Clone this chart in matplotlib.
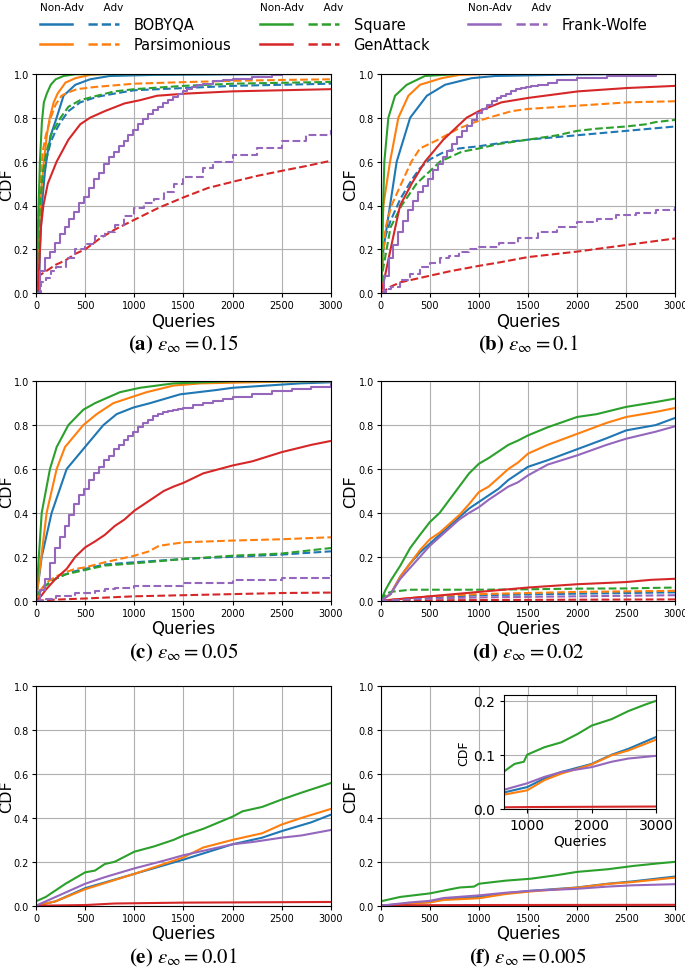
import matplotlib
matplotlib.use("Agg")
import matplotlib.pyplot as plt
from matplotlib.lines import Line2D
from matplotlib.legend_handler import HandlerTuple

plt.rcParams["mathtext.fontset"] = "stix"

methods = ["BOBYQA", "Parsimonious", "Square", "GenAttack", "Frank-Wolfe"]
colors = ["#1f77b4", "#ff7f0e", "#2ca02c", "#d62728", "#9467bd"]
captions = [r"$\mathbf{(a)}\ \varepsilon_\infty = 0.15$", r"$\mathbf{(b)}\ \varepsilon_\infty = 0.1$",
            r"$\mathbf{(c)}\ \varepsilon_\infty = 0.05$", r"$\mathbf{(d)}\ \varepsilon_\infty = 0.02$",
            r"$\mathbf{(e)}\ \varepsilon_\infty = 0.01$", r"$\mathbf{(f)}\ \varepsilon_\infty = 0.005$"]

# (queries, cdf) pairs; "na" = non-adversarial (solid), "adv" = adversarial (dashed)
# ---- (a) eps = 0.15
a_bobyqa_na = [(0, 0), (30, 0), (40, 0.2), (60, 0.4), (90, 0.55), (110, 0.62), (150, 0.72), (210, 0.8),
               (280, 0.9), (400, 0.95), (550, 0.975), (750, 0.99), (1200, 0.995), (3000, 1.0)]
a_bobyqa_adv = [(0, 0), (20, 0.15), (40, 0.35), (70, 0.5), (100, 0.6), (150, 0.69), (200, 0.74), (250, 0.78),
                (330, 0.83), (450, 0.87), (620, 0.895), (800, 0.91), (1000, 0.925), (1500, 0.935), (2000, 0.945),
                (2500, 0.95), (3000, 0.955)]
a_pars_na = [(0, 0), (30, 0.3), (60, 0.5), (80, 0.6), (110, 0.72), (140, 0.8), (180, 0.87), (220, 0.91),
             (300, 0.96), (400, 0.98), (550, 0.995), (700, 1.0), (3000, 1.0)]
a_pars_adv = [(0, 0), (20, 0.3), (40, 0.5), (70, 0.65), (100, 0.72), (150, 0.8), (200, 0.86), (260, 0.9),
              (300, 0.91), (415, 0.93), (600, 0.94), (1000, 0.955), (1500, 0.962), (2000, 0.968), (2500, 0.972),
              (3000, 0.975)]
a_square_na = [(0, 0), (20, 0.3), (40, 0.6), (60, 0.78), (80, 0.87), (110, 0.91), (150, 0.95), (200, 0.975),
               (280, 0.99), (400, 0.998), (3000, 1.0)]
a_square_adv = [(0, 0), (20, 0.2), (40, 0.4), (70, 0.55), (100, 0.63), (150, 0.72), (200, 0.76), (250, 0.8),
                (330, 0.85), (450, 0.88), (620, 0.9), (800, 0.92), (1000, 0.93), (1500, 0.945), (2000, 0.955),
                (3000, 0.963)]
a_gen_na = [(0, 0), (25, 0.02), (30, 0.1), (50, 0.3), (75, 0.4), (120, 0.5), (210, 0.6), (330, 0.7), (450, 0.77),
            (550, 0.8), (700, 0.83), (900, 0.865), (1060, 0.88), (1230, 0.9), (1530, 0.91), (2000, 0.92),
            (2500, 0.925), (3000, 0.93)]
a_gen_adv = [(0, 0.02), (30, 0.08), (100, 0.1), (200, 0.13), (300, 0.15), (400, 0.18), (500, 0.2), (650, 0.25),
             (800, 0.29), (1000, 0.335), (1250, 0.39), (1500, 0.437), (1750, 0.48), (2000, 0.508), (2250, 0.535),
             (2500, 0.558), (2750, 0.58), (3000, 0.604)]
a_fw_na = [(0, 0), (40, 0.1), (90, 0.16), (140, 0.19), (190, 0.23), (240, 0.27), (290, 0.3), (340, 0.34),
           (390, 0.37), (440, 0.41), (490, 0.44), (540, 0.48), (590, 0.52), (640, 0.55), (690, 0.59), (740, 0.62),
           (790, 0.645), (840, 0.67), (890, 0.695), (940, 0.72), (990, 0.745), (1040, 0.77), (1090, 0.795),
           (1140, 0.815), (1190, 0.835), (1240, 0.85), (1290, 0.865), (1340, 0.88), (1390, 0.895), (1440, 0.91),
           (1490, 0.92), (1540, 0.93), (1590, 0.94), (1640, 0.95), (1700, 0.955), (1800, 0.965), (1900, 0.97),
           (2000, 0.975), (2200, 0.985), (2400, 0.995), (2500, 1.0), (3000, 1.0)]
a_fw_adv = [(0, 0), (40, 0), (50, 0.05), (100, 0.07), (150, 0.1), (200, 0.12), (300, 0.16), (400, 0.2),
            (500, 0.225), (600, 0.26), (700, 0.28), (800, 0.31), (900, 0.35), (1000, 0.39), (1100, 0.41),
            (1200, 0.43), (1300, 0.46), (1400, 0.5), (1500, 0.528), (1700, 0.57), (1800, 0.6), (2000, 0.63),
            (2250, 0.66), (2500, 0.695), (2750, 0.72), (3000, 0.744)]

# ---- (b) eps = 0.1
b_bobyqa_na = [(0, 0), (27, 0.2), (95, 0.4), (163, 0.6), (300, 0.8), (470, 0.9), (655, 0.95), (925, 0.98),
               (1165, 0.99), (2000, 0.997), (3000, 1.0)]
b_bobyqa_adv = [(0, 0), (20, 0.15), (40, 0.25), (100, 0.33), (200, 0.43), (320, 0.52), (400, 0.57), (500, 0.61),
                (650, 0.645), (800, 0.66), (1000, 0.67), (1300, 0.69), (1500, 0.7), (2000, 0.72), (2500, 0.74),
                (3000, 0.76)]
b_pars_na = [(0, 0), (27, 0.4), (95, 0.6), (180, 0.8), (282, 0.9), (400, 0.95), (620, 0.98), (800, 0.995),
             (1160, 1.0), (3000, 1.0)]
b_pars_adv = [(0, 0), (20, 0.15), (50, 0.3), (110, 0.4), (210, 0.5), (313, 0.6), (400, 0.66), (585, 0.7),
              (790, 0.75), (960, 0.78), (1100, 0.8), (1335, 0.83), (1500, 0.84), (1840, 0.85), (2180, 0.86),
              (2520, 0.87), (3000, 0.875)]
b_square_na = [(0, 0), (37, 0.6), (78, 0.8), (146, 0.9), (265, 0.95), (450, 0.99), (825, 1.0), (3000, 1.0)]
b_square_adv = [(0, 0), (20, 0.1), (100, 0.3), (213, 0.4), (366, 0.5), (604, 0.6), (825, 0.645), (1000, 0.66),
                (1200, 0.68), (1500, 0.7), (1800, 0.72), (2000, 0.74), (2200, 0.75), (2500, 0.76), (2700, 0.77),
                (2800, 0.78), (3000, 0.79)]
b_gen_na = [(0, 0), (30, 0.05), (100, 0.2), (197, 0.4), (316, 0.5), (451, 0.6), (638, 0.7), (875, 0.8),
            (1000, 0.83), (1230, 0.87), (1500, 0.89), (2010, 0.92), (2500, 0.935), (3000, 0.945)]
b_gen_adv = [(0, 0), (100, 0.03), (200, 0.05), (500, 0.08), (700, 0.1), (1000, 0.125), (1200, 0.14),
             (1500, 0.165), (2000, 0.19), (2500, 0.22), (3000, 0.25)]
b_fw_na = [(0, 0), (30, 0.08), (80, 0.16), (130, 0.22), (180, 0.28), (230, 0.33), (280, 0.38), (330, 0.42),
           (380, 0.46), (430, 0.49), (480, 0.52), (530, 0.56), (580, 0.59), (630, 0.62), (680, 0.65), (730, 0.68),
           (780, 0.71), (830, 0.74), (880, 0.76), (930, 0.79), (980, 0.82), (1030, 0.84), (1080, 0.86),
           (1130, 0.875), (1180, 0.89), (1230, 0.9), (1280, 0.91), (1330, 0.92), (1380, 0.93), (1430, 0.935),
           (1480, 0.94), (1530, 0.945), (1600, 0.95), (1700, 0.96), (1800, 0.97), (2000, 0.98), (2300, 0.99),
           (2800, 1.0), (3000, 1.0)]
b_fw_adv = [(0, 0), (50, 0.02), (100, 0.03), (200, 0.06), (300, 0.09), (400, 0.12), (500, 0.138), (600, 0.16),
            (700, 0.17), (800, 0.19), (900, 0.2), (1000, 0.21), (1200, 0.23), (1400, 0.25), (1600, 0.28),
            (1800, 0.3), (2000, 0.323), (2200, 0.34), (2400, 0.355), (2600, 0.365), (2800, 0.38), (3000, 0.395)]

# ---- (c) eps = 0.05
c_bobyqa_na = [(0, 0), (58, 0.2), (159, 0.4), (312, 0.6), (498, 0.7), (685, 0.8), (820, 0.85), (990, 0.88),
               (1160, 0.9), (1464, 0.94), (1837, 0.96), (2000, 0.97), (2346, 0.98), (2685, 0.99), (3000, 0.995)]
c_bobyqa_adv = [(0, 0.02), (50, 0.05), (100, 0.07), (200, 0.1), (300, 0.12), (400, 0.135), (500, 0.145),
                (700, 0.165), (1000, 0.175), (1500, 0.19), (2000, 0.2), (2500, 0.21), (3000, 0.225)]
c_pars_na = [(0, 0), (108, 0.4), (210, 0.6), (295, 0.7), (481, 0.8), (617, 0.85), (786, 0.9), (1125, 0.95),
             (1397, 0.98), (1668, 0.99), (2685, 1.0), (3000, 1.0)]
c_pars_adv = [(0, 0), (50, 0.05), (100, 0.08), (200, 0.11), (300, 0.13), (400, 0.145), (500, 0.152),
              (700, 0.175), (1000, 0.205), (1150, 0.225), (1250, 0.25), (1500, 0.266), (2000, 0.274),
              (2500, 0.28), (3000, 0.289)]
c_square_na = [(0, 0), (58, 0.4), (142, 0.6), (210, 0.7), (329, 0.8), (481, 0.87), (600, 0.9), (854, 0.95),
               (1058, 0.97), (1397, 0.99), (2000, 1.0), (3000, 1.0)]
c_square_adv = [(0, 0.02), (100, 0.07), (200, 0.1), (300, 0.12), (500, 0.14), (700, 0.16), (1000, 0.17),
                (1500, 0.19), (2000, 0.205), (2500, 0.215), (3000, 0.24)]
c_gen_na = [(0, 0), (50, 0.02), (100, 0.05), (200, 0.1), (312, 0.145), (400, 0.2), (500, 0.243), (600, 0.27),
            (700, 0.3), (800, 0.34), (900, 0.37), (1000, 0.41), (1100, 0.44), (1200, 0.47), (1300, 0.5),
            (1400, 0.52), (1500, 0.537), (1700, 0.58), (2000, 0.616), (2200, 0.635), (2500, 0.677),
            (2800, 0.71), (3000, 0.728)]
c_gen_adv = [(0, 0), (200, 0.005), (500, 0.01), (1000, 0.02), (1500, 0.025), (2000, 0.03), (2500, 0.035),
             (3000, 0.037)]
c_fw_na = [(0, 0), (40, 0.05), (90, 0.1), (140, 0.17), (190, 0.24), (240, 0.29), (290, 0.34), (340, 0.39),
           (390, 0.44), (440, 0.48), (490, 0.51), (540, 0.55), (590, 0.58), (640, 0.61), (690, 0.64), (740, 0.66),
           (790, 0.69), (840, 0.71), (890, 0.73), (940, 0.75), (990, 0.77), (1040, 0.79), (1090, 0.81),
           (1140, 0.825), (1190, 0.84), (1240, 0.85), (1290, 0.86), (1340, 0.865), (1390, 0.87), (1440, 0.875),
           (1490, 0.88), (1600, 0.89), (1700, 0.9), (1800, 0.91), (1900, 0.92), (2000, 0.93), (2200, 0.94),
           (2400, 0.955), (2600, 0.965), (2800, 0.975), (3000, 0.985)]
c_fw_adv = [(0, 0), (100, 0.01), (200, 0.02), (400, 0.035), (600, 0.045), (700, 0.055), (800, 0.06),
            (1000, 0.065), (1500, 0.08), (2000, 0.095), (2500, 0.105), (3000, 0.115)]

# ---- (d) eps = 0.02
d_bobyqa_na = [(0, 0), (100, 0.03), (150, 0.07), (200, 0.11), (300, 0.17), (400, 0.22), (500, 0.26), (600, 0.3),
               (700, 0.34), (800, 0.38), (900, 0.42), (1000, 0.45), (1100, 0.48), (1200, 0.51), (1300, 0.55),
               (1400, 0.58), (1500, 0.61), (1700, 0.64), (2000, 0.69), (2300, 0.74), (2500, 0.776), (2800, 0.8),
               (3000, 0.833)]
d_bobyqa_adv = [(0, 0), (500, 0.015), (1000, 0.025), (2000, 0.032), (3000, 0.038)]
d_pars_na = [(0, 0), (100, 0.03), (150, 0.07), (200, 0.11), (300, 0.17), (400, 0.23), (500, 0.28), (600, 0.31),
             (700, 0.35), (800, 0.39), (900, 0.44), (1000, 0.495), (1100, 0.52), (1200, 0.56), (1300, 0.6),
             (1400, 0.63), (1500, 0.67), (1700, 0.71), (2000, 0.76), (2300, 0.81), (2500, 0.837), (2800, 0.86),
             (3000, 0.878)]
d_pars_adv = [(0, 0), (500, 0.02), (1000, 0.03), (1500, 0.035), (2000, 0.04), (3000, 0.045)]
d_square_na = [(0, 0), (50, 0.05), (100, 0.09), (200, 0.16), (300, 0.24), (400, 0.3), (500, 0.358), (600, 0.4),
               (700, 0.46), (800, 0.52), (900, 0.58), (1000, 0.624), (1100, 0.65), (1200, 0.68), (1300, 0.71),
               (1400, 0.73), (1500, 0.753), (1700, 0.79), (2000, 0.837), (2200, 0.85), (2500, 0.883),
               (2800, 0.905), (3000, 0.921)]
d_square_adv = [(0, 0), (50, 0.03), (100, 0.04), (300, 0.05), (1000, 0.05), (1500, 0.052), (2000, 0.055),
                (2500, 0.056), (3000, 0.06)]
d_gen_na = [(0, 0), (500, 0.02), (1000, 0.04), (1500, 0.06), (2000, 0.075), (2500, 0.085), (2750, 0.095),
            (3000, 0.1)]
d_gen_adv = [(0, 0), (1000, 0.003), (3000, 0.006)]
d_fw_na = [(0, 0), (100, 0.03), (200, 0.1), (300, 0.15), (400, 0.2), (500, 0.25), (600, 0.29), (700, 0.33),
           (800, 0.37), (900, 0.4), (1000, 0.426), (1100, 0.46), (1200, 0.49), (1300, 0.52), (1400, 0.54),
           (1500, 0.571), (1700, 0.62), (2000, 0.662), (2300, 0.71), (2500, 0.738), (2800, 0.77), (3000, 0.795)]
d_fw_adv = [(0, 0), (500, 0.01), (1000, 0.015), (2000, 0.02), (3000, 0.025)]

# ---- (e) eps = 0.01 (adversarial curves stay at zero)
e_bobyqa_na = [(0, 0), (200, 0.02), (500, 0.08), (1000, 0.145), (1500, 0.21), (2000, 0.28), (2300, 0.31),
               (2500, 0.34), (2800, 0.38), (3000, 0.415)]
e_pars_na = [(0, 0), (200, 0.02), (500, 0.075), (1000, 0.145), (1500, 0.22), (1700, 0.265), (2000, 0.3),
             (2300, 0.33), (2500, 0.37), (2700, 0.4), (3000, 0.441)]
e_square_na = [(0, 0.02), (100, 0.04), (300, 0.1), (500, 0.152), (600, 0.16), (700, 0.19), (800, 0.2),
               (1000, 0.246), (1200, 0.27), (1400, 0.3), (1500, 0.32), (1700, 0.35), (2000, 0.406), (2100, 0.43),
               (2300, 0.45), (2500, 0.484), (2700, 0.515), (3000, 0.559)]
e_gen_na = [(0, 0), (500, 0.003), (800, 0.01), (1500, 0.014), (2000, 0.015), (3000, 0.017)]
e_fw_na = [(0, 0), (200, 0.04), (500, 0.1), (700, 0.13), (1000, 0.17), (1300, 0.205), (1500, 0.23),
           (1700, 0.25), (2000, 0.28), (2200, 0.29), (2500, 0.31), (2700, 0.32), (3000, 0.345)]

# ---- (f) eps = 0.005 (also used for the inset)
f_bobyqa_na = [(0, 0), (300, 0.01), (500, 0.017), (640, 0.03), (1000, 0.04), (1270, 0.056), (1530, 0.068),
               (2000, 0.083), (2310, 0.1), (2570, 0.111), (3000, 0.133)]
f_pars_na = [(0, 0), (300, 0.01), (500, 0.015), (640, 0.026), (1000, 0.034), (1270, 0.053), (1530, 0.065),
             (2000, 0.082), (2310, 0.099), (2570, 0.108), (3000, 0.128)]
f_square_na = [(0, 0.02), (200, 0.04), (500, 0.056), (700, 0.074), (806, 0.083), (950, 0.087), (1000, 0.1),
               (1270, 0.114), (1530, 0.123), (1790, 0.139), (2000, 0.154), (2310, 0.166), (2570, 0.181),
               (2830, 0.193), (3000, 0.2)]
f_gen_na = [(0, 0), (200, 0.002), (1000, 0.003), (3000, 0.004)]
f_fw_na = [(0, 0), (300, 0.015), (500, 0.022), (640, 0.035), (1000, 0.047), (1270, 0.059), (1530, 0.068),
           (2000, 0.077), (2310, 0.087), (2570, 0.093), (3000, 0.098)]

panels = [
    [(a_bobyqa_na, a_bobyqa_adv), (a_pars_na, a_pars_adv), (a_square_na, a_square_adv),
     (a_gen_na, a_gen_adv), (a_fw_na, a_fw_adv)],
    [(b_bobyqa_na, b_bobyqa_adv), (b_pars_na, b_pars_adv), (b_square_na, b_square_adv),
     (b_gen_na, b_gen_adv), (b_fw_na, b_fw_adv)],
    [(c_bobyqa_na, c_bobyqa_adv), (c_pars_na, c_pars_adv), (c_square_na, c_square_adv),
     (c_gen_na, c_gen_adv), (c_fw_na, c_fw_adv)],
    [(d_bobyqa_na, d_bobyqa_adv), (d_pars_na, d_pars_adv), (d_square_na, d_square_adv),
     (d_gen_na, d_gen_adv), (d_fw_na, d_fw_adv)],
    [(e_bobyqa_na, None), (e_pars_na, None), (e_square_na, None), (e_gen_na, None), (e_fw_na, None)],
    [(f_bobyqa_na, None), (f_pars_na, None), (f_square_na, None), (f_gen_na, None), (f_fw_na, None)],
]
stepped_fw = [True, True, True, False, False, False]

W, H = 685, 970
fig = plt.figure(figsize=(W / 100, H / 100), dpi=100)

col_left = [36, 380.7]
col_width = [295, 294.6]
row_bottom = [294.3, 601.7, 906.7]
ax_h = 219.5


def draw_curves(ax, series, step_fw, lw=1.5):
    for k, (na, adv) in enumerate(series):
        ds = "steps-post" if (step_fw and k == 4) else "default"
        for pts, ls in ((na, "-"), (adv, "--")):
            if pts is None:
                continue
            q = [p[0] for p in pts]
            v = [p[1] for p in pts]
            ax.plot(q, v, color=colors[k], ls=ls, lw=lw, drawstyle=ds)


for i, series in enumerate(panels):
    r, c = divmod(i, 2)
    ax = fig.add_axes([col_left[c] / W, 1 - row_bottom[r] / H, col_width[c] / W, ax_h / H])
    ax.grid(True, color="#b0b0b0", lw=0.8)
    ax.set_axisbelow(True)
    draw_curves(ax, series, stepped_fw[i])
    ax.set_xlim(0, 3000)
    ax.set_ylim(0, 1.0)
    ax.set_xticks(range(0, 3001, 500))
    ax.set_yticks([0, 0.2, 0.4, 0.6, 0.8, 1.0])
    ax.tick_params(labelsize=7, length=3, pad=2)
    ax.set_xlabel("Queries", fontsize=12, labelpad=1)
    ax.set_ylabel("CDF", fontsize=11.5, labelpad=0)
    cx = (col_left[c] + col_width[c] / 2) / W
    fig.text(cx, 1 - (row_bottom[r] + 51) / H, captions[i], ha="center", va="center", fontsize=15)

    if i == 5:
        ins = ax.inset_axes([0.418, 0.442, 0.517, 0.516])
        ins.grid(True, color="#b0b0b0", lw=0.8)
        ins.set_axisbelow(True)
        draw_curves(ins, series, False)
        ins.set_xlim(640, 3000)
        ins.set_ylim(0, 0.21)
        ins.set_xticks([1000, 2000, 3000])
        ins.set_yticks([0.0, 0.1, 0.2])
        ins.tick_params(labelsize=10, length=3)
        ins.set_xlabel("Queries", fontsize=10, labelpad=1)
        ins.set_ylabel("CDF", fontsize=9, labelpad=2)

# legend: three groups, each with a solid (non-adv) and dashed (adv) sample
groups = [[0, 1], [2, 3], [4]]
group_x = [30, 250, 458]
for g, idx in zip(groups, group_x):
    handles = [(Line2D([], [], color=colors[k], lw=1.8), Line2D([], [], color=colors[k], lw=1.8, ls="--"))
               for k in g]
    labels = [methods[k] for k in g]
    fig.legend(handles, labels, loc="upper left", bbox_to_anchor=(idx / W, 1 + 7 / H),
               handler_map={tuple: HandlerTuple(ndivide=None, pad=1.1)},
               handlelength=5.4, handletextpad=1.0, labelspacing=0.35, fontsize=10.5,
               frameon=False, title="Non-Adv      Adv", title_fontsize=7.5,
               alignment="left", borderpad=0.2)

fig.savefig("out.png", dpi=100)
